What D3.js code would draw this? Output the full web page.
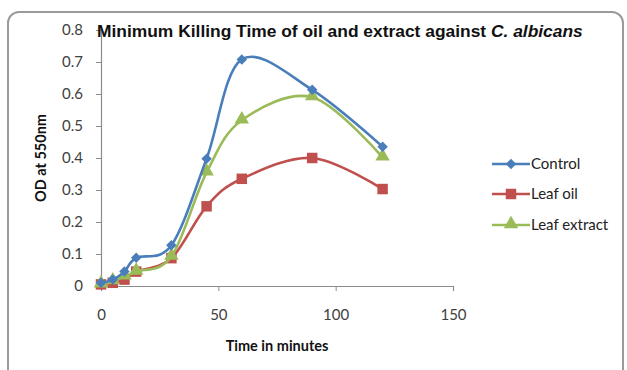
<!DOCTYPE html>
<html>
<head>
<meta charset="utf-8">
<script src="https://cdn.jsdelivr.net/npm/d3@7"></script>
<style>
  body { margin: 0; background: #fff; }
  svg { display: block; }
</style>
</head>
<body>
<script>
// values
const times = [0, 5, 10, 15, 30, 45, 60, 90, 120];
const control = [0.01, 0.02, 0.045, 0.088, 0.127, 0.398, 0.708, 0.613, 0.435];
const leafOil = [0.005, 0.01, 0.02, 0.045, 0.087, 0.249, 0.335, 0.4, 0.303];
const leafExtract = [0.005, 0.015, 0.03, 0.045, 0.092, 0.355, 0.518, 0.59, 0.402];
const xTicks = [0, 50, 100, 150];
const yTicks = [0, 0.1, 0.2, 0.3, 0.4, 0.5, 0.6, 0.7, 0.8];
const seriesNames = ["Control", "Leaf oil", "Leaf extract"];

const W = 627, H = 370;

const svg = d3.select("body")
    .append("svg")
    .attr("width", W)
    .attr("height", H);

// rounded chart frame
svg.append("rect")
    .attr("x", 8).attr("y", 12)
    .attr("width", 615).attr("height", 370)
    .attr("rx", 11)
    .attr("fill", "#fff")
    .attr("stroke", "#9a9a9a")
    .attr("stroke-width", 2);

var xScale = d3.scaleLinear().domain([0, 150]).range([101, 453]);
var yScale = d3.scaleLinear().domain([0, 0.8]).range([286, 30]);

const tickFont = "Lato, 'Open Sans', sans-serif";

// x axis
let xAxis = d3.axisBottom(xScale).tickValues(xTicks).tickSize(5).tickPadding(18)
    .tickFormat(d3.format("d"));
const gx = svg.append("g")
    .attr("transform", "translate(0," + yScale(0) + ")")
    .call(xAxis);

// y axis
let yAxis = d3.axisLeft(yScale).tickValues(yTicks).tickSize(5)
    .tickFormat(d => d === 0 ? "0" : d3.format(".1f")(d));
const gy = svg.append("g")
    .attr("transform", "translate(" + xScale(0) + ",0)")
    .call(yAxis);

[gx, gy].forEach(g => {
    g.select(".domain").attr("stroke", "#8c8c8c").attr("stroke-width", 1.2);
    g.selectAll(".tick line").attr("stroke", "#8c8c8c");
    g.selectAll(".tick text")
        .attr("fill", "#404040")
        .style("font-family", tickFont)
        .style("font-size", "15px");
});
gy.selectAll(".tick text").attr("x", -18);

// title
const title = svg.append("text")
    .attr("x", 97).attr("y", 37)
    .style("font-family", "'Liberation Sans', Arial, sans-serif")
    .style("font-weight", "bold")
    .style("font-size", "17.4px")
    .attr("fill", "#111");
title.append("tspan").text("Minimum Killing Time of oil and extract against ");
title.append("tspan").style("font-style", "italic").text("C. albicans");

// axis titles
svg.append("text")
    .attr("x", 277).attr("y", 351)
    .attr("text-anchor", "middle")
    .style("font-family", tickFont)
    .style("font-weight", "bold")
    .style("font-size", "14.5px")
    .attr("fill", "#111")
    .text("Time in minutes");

svg.append("text")
    .attr("transform", "translate(46,158) rotate(-90)")
    .attr("text-anchor", "middle")
    .style("font-family", tickFont)
    .style("font-weight", "bold")
    .style("font-size", "14.5px")
    .attr("fill", "#111")
    .text("OD at 550nm");

const colors = ["#4a7ebb", "#c0504d", "#9bbb59"];
const allSeries = [control, leafOil, leafExtract];

const line = d3.line()
    .x(d => xScale(d[0]))
    .y(d => yScale(d[1]))
    .curve(d3.curveCardinal.tension(0));

const diamond = d3.symbol().type(d3.symbolDiamond2).size(70);
const square = d3.symbol().type(d3.symbolSquare).size(110);
const triangle = d3.symbol().type(d3.symbolTriangle).size(90);
const markers = [diamond, square, triangle];

function drawMarker(g, i, x, y) {
    g.append("path")
        .attr("d", markers[i]())
        .attr("transform", "translate(" + x + "," + (i === 2 ? y - 1 : y) + ")")
        .attr("fill", colors[i]);
}

// draw red, then green, then blue on top
[1, 2, 0].forEach(i => {
    const pts = times.map((t, j) => [t, allSeries[i][j]]);
    svg.append("path")
        .datum(pts)
        .attr("d", line)
        .attr("fill", "none")
        .attr("stroke", colors[i])
        .attr("stroke-width", 2.6);
    const g = svg.append("g");
    pts.forEach(p => drawMarker(g, i, xScale(p[0]), yScale(p[1])));
});

// legend
const legendY = [164, 194, 225];
seriesNames.forEach((name, i) => {
    const g = svg.append("g");
    g.append("line")
        .attr("x1", 492).attr("x2", 530)
        .attr("y1", legendY[i]).attr("y2", legendY[i])
        .attr("stroke", colors[i])
        .attr("stroke-width", 2.6);
    drawMarker(g, i, 511, legendY[i]);
    g.append("text")
        .attr("x", 531).attr("y", legendY[i] + 5)
        .style("font-family", tickFont)
        .style("font-size", "15px")
        .attr("fill", "#222")
        .text(name);
});
</script>
</body>
</html>
